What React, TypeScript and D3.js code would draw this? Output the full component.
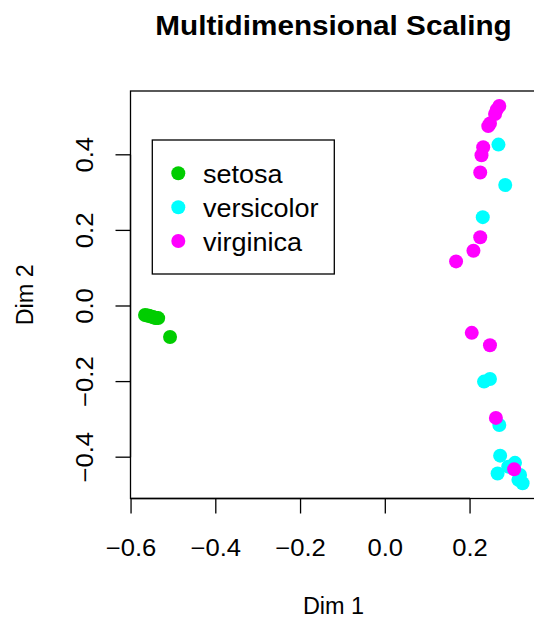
import React from "react";
import * as d3 from "d3";

const title = "Multidimensional Scaling";
const xLabel = "Dim 1";
const yLabel = "Dim 2";
const xTicks = [-0.6, -0.4, -0.2, 0.0, 0.2];
const yTicks = [-0.4, -0.2, 0.0, 0.2, 0.4];
const species = ["setosa", "versicolor", "virginica"];
const speciesColors = ["#00CD00", "#00FFFF", "#FF00FF"];

const setosaX = [-0.567, -0.562, -0.558, -0.553, -0.548, -0.544, -0.541, -0.536, -0.508];
const setosaY = [-0.024, -0.025, -0.026, -0.028, -0.029, -0.031, -0.032, -0.032, -0.082];

const versicolorX = [0.267, 0.283, 0.230, 0.233, 0.247, 0.269, 0.271, 0.290, 0.306, 0.265, 0.318, 0.314, 0.324];
const versicolorY = [0.427, 0.320, 0.235, -0.200, -0.193, -0.315, -0.396, -0.425, -0.415, -0.443, -0.447, -0.460, -0.469];

const virginicaX = [0.269, 0.263, 0.259, 0.247, 0.243, 0.231, 0.227, 0.224, 0.224, 0.208, 0.167, 0.204, 0.247, 0.261, 0.304];
const virginicaY = [0.529, 0.519, 0.508, 0.483, 0.476, 0.420, 0.399, 0.353, 0.182, 0.146, 0.118, -0.071, -0.104, -0.296, -0.432];

const W = 534;
const H = 618;
const left = 130.5;
const right = 536.5;
const top = 91;
const bottom = 498.5;
const SX = 1.1;
const FONT = "'Liberation Sans', Arial, Helvetica, sans-serif";

export default function App() {
  const x = d3.scaleLinear().domain([-0.6013, 0.3568]).range([left, right]);
  const y = d3.scaleLinear().domain([-0.5093, 0.5688]).range([bottom, top]);

  const groups = [
    { xs: setosaX, ys: setosaY, color: speciesColors[0] },
    { xs: versicolorX, ys: versicolorY, color: speciesColors[1] },
    { xs: virginicaX, ys: virginicaY, color: speciesColors[2] },
  ];

  const fmt = (v: number) => {
    const s = Math.abs(v).toFixed(1);
    return v < -1e-9 ? "\u2212" + s : s;
  };

  const legendX = 152.3;
  const legendY = 140;
  const legendW = 182;
  const legendH = 134;
  const rowY = [173.3, 207.3, 241];

  return (
    <svg
      width={W}
      height={H}
      style={{ position: "absolute", left: 0, top: 0, background: "#fff" }}
      fontFamily={FONT}
    >
      <rect x={0} y={0} width={W} height={H} fill="#fff" />
      <text
        transform={`translate(${(left + right) / 2},35) scale(${SX},1)`}
        textAnchor="middle"
        fontWeight="bold"
        fontSize={27}
        fill="#000"
      >
        {title}
      </text>

      {/* points */}
      {groups.map((g, gi) =>
        g.xs.map((xv, i) => (
          <circle key={`${gi}-${i}`} cx={x(xv)} cy={y(g.ys[i])} r={7} fill={g.color} />
        ))
      )}

      {/* box */}
      <rect x={left} y={top} width={right - left} height={bottom - top} fill="none" stroke="#000" strokeWidth={1.3} />

      {/* x axis */}
      <line x1={x(xTicks[0])} x2={x(xTicks[xTicks.length - 1])} y1={bottom} y2={bottom} stroke="#000" strokeWidth={1.3} />
      {xTicks.map((t) => (
        <g key={`xt${t}`}>
          <line x1={x(t)} x2={x(t)} y1={bottom} y2={bottom + 15} stroke="#000" strokeWidth={1.3} />
          <text transform={`translate(${x(t)},556) scale(${SX},1)`} textAnchor="middle" fontSize={23.3} fill="#000">
            {fmt(t)}
          </text>
        </g>
      ))}

      {/* y axis */}
      <line x1={left} x2={left} y1={y(yTicks[0])} y2={y(yTicks[yTicks.length - 1])} stroke="#000" strokeWidth={1.3} />
      {yTicks.map((t) => (
        <g key={`yt${t}`}>
          <line x1={left - 15} x2={left} y1={y(t)} y2={y(t)} stroke="#000" strokeWidth={1.3} />
          <text transform={`translate(93,${y(t)}) rotate(-90) scale(${SX},1)`} textAnchor="middle" fontSize={23.3} fill="#000">
            {fmt(t)}
          </text>
        </g>
      ))}

      <text transform={`translate(${(left + right) / 2},614) scale(1.02,1)`} textAnchor="middle" fontSize={23} fill="#000">
        {xLabel}
      </text>
      <text transform={`translate(33,${(top + bottom) / 2}) rotate(-90) scale(1.02,1)`} textAnchor="middle" fontSize={23} fill="#000">
        {yLabel}
      </text>

      {/* legend */}
      <rect x={legendX} y={legendY} width={legendW} height={legendH} fill="#fff" stroke="#000" strokeWidth={1.3} />
      {species.map((s, i) => (
        <g key={s}>
          <circle cx={178.3} cy={rowY[i]} r={7} fill={speciesColors[i]} />
          <text transform={`translate(203,${rowY[i] + 9.5}) scale(1.06,1)`} fontSize={25.5} fill="#000">
            {s}
          </text>
        </g>
      ))}
    </svg>
  );
}
